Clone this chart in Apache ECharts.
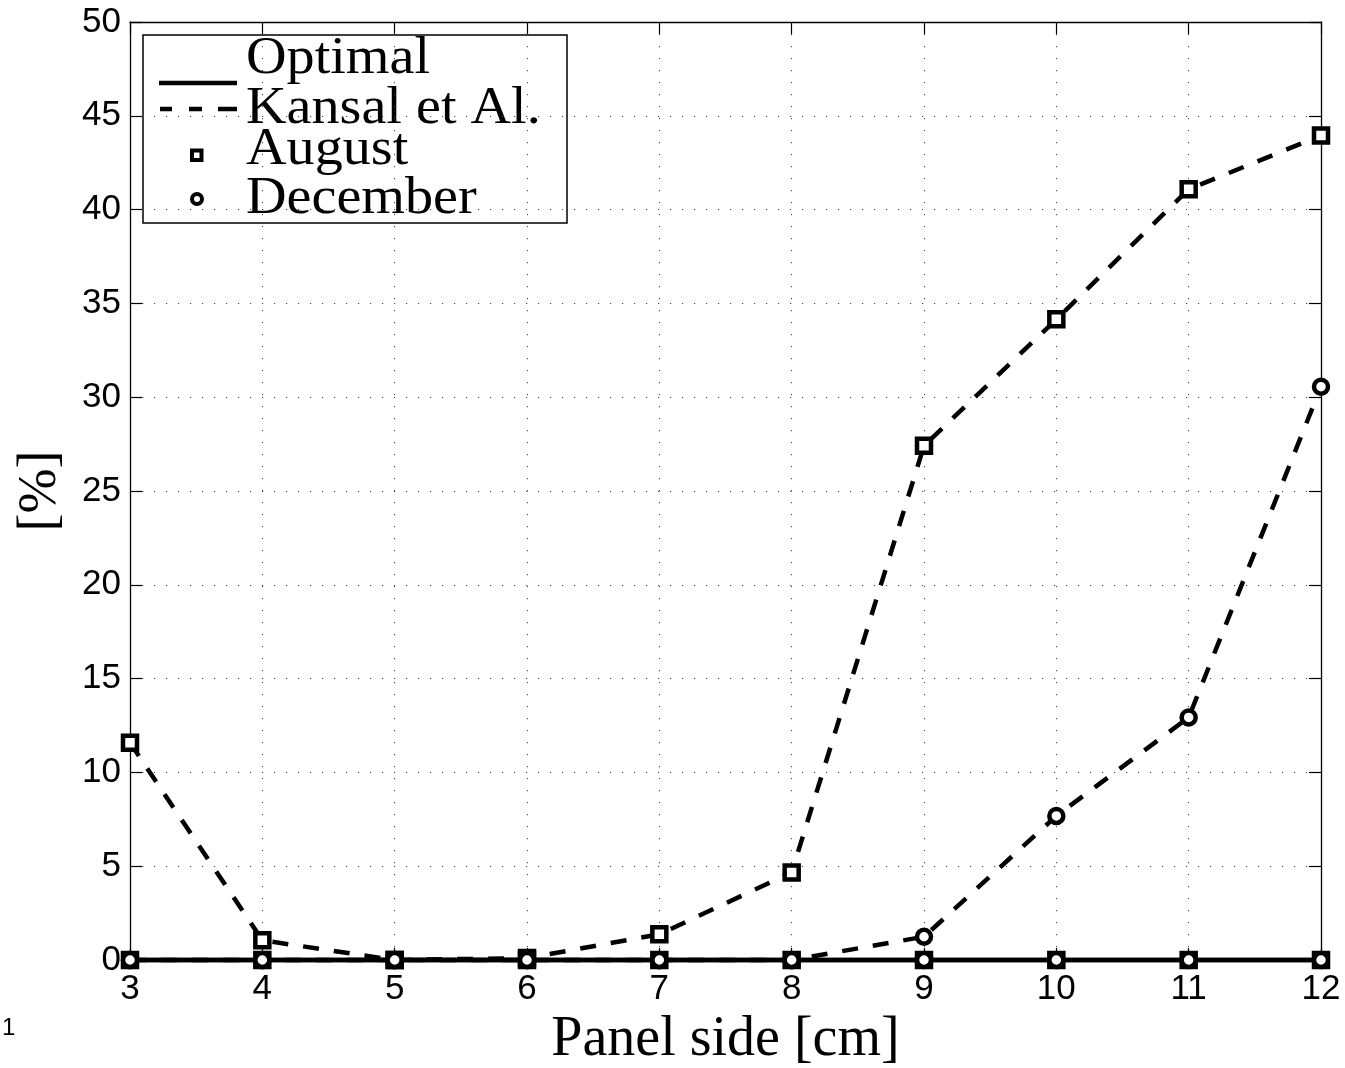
<!DOCTYPE html>
<html>
<head>
<meta charset="utf-8">
<script src="https://cdn.jsdelivr.net/npm/echarts@6/dist/echarts.min.js"></script>
<style>
  html, body { margin: 0; padding: 0; background: #fff; }
  #chart { width: 1345px; height: 1068px; }
</style>
</head>
<body>
<div id="chart"></div>
<script>
// Panel side lengths in cm
const panelSide = [3, 4, 5, 6, 7, 8, 9, 10, 11, 12];
// Loss in percent for each strategy and month
const optimalAugust = [0, 0, 0, 0, 0, 0, 0, 0, 0, 0];
const optimalDecember = [0, 0, 0, 0, 0, 0, 0, 0, 0, 0];
const kansalAugust = [11.58, 1.05, 0, 0.1, 1.37, 4.67, 27.41, 34.15, 41.08, 43.95];
const kansalDecember = [0, 0, 0, 0, 0, 0, 1.24, 7.68, 12.93, 30.56];
// Axis ticks
const xTicks = { min: 3, max: 12, interval: 1 };
const yTicks = { min: 0, max: 50, interval: 5 };

const pairs = (ys) => panelSide.map((x, i) => [x, ys[i]]);

const serif = '"Liberation Serif", "DejaVu Serif", serif';
const sans = '"Liberation Sans", Arial, sans-serif';

const squareMarker = {
  symbol: 'rect', symbolSize: 14,
  itemStyle: { color: '#fff', borderColor: '#000', borderWidth: 4.5 }
};
const circleMarker = {
  symbol: 'circle', symbolSize: 14,
  itemStyle: { color: '#fff', borderColor: '#000', borderWidth: 4.5 }
};

function lineSeries(name, ys, dashed, marker, z) {
  return Object.assign({
    name: name,
    type: 'line',
    data: pairs(ys),
    clip: false,
    z: z,
    showAllSymbol: true,
    lineStyle: { color: '#000', width: 4.5, type: dashed ? [16, 15] : 'solid', cap: 'butt' },
    emphasis: { disabled: true }
  }, marker);
}

const tickStyle = { show: true, inside: true, length: 12, lineStyle: { color: '#000', width: 1.2 } };
const axisLineStyle = { show: true, onZero: false, lineStyle: { color: '#000', width: 1.3 } };
const gridLine = { show: true, lineStyle: { color: '#444', width: 1, type: [1.2, 10.8] } };

const legendX = 143, legendY = 35;
const legendTexts = [
  { text: 'Optimal', y: 59 },
  { text: 'Kansal et Al.', y: 109 },
  { text: 'August', y: 150 },
  { text: 'December', y: 199 }
];

const option = {
  animation: false,
  backgroundColor: '#fff',
  grid: { left: 130, right: 24, top: 22, bottom: 108, containLabel: false, outerBoundsMode: 'none' },
  xAxis: [
    {
      type: 'value', position: 'bottom',
      min: xTicks.min, max: xTicks.max, interval: xTicks.interval,
      name: 'Panel side [cm]', nameLocation: 'middle', nameGap: 50,
      nameTextStyle: { fontFamily: serif, fontSize: 56, color: '#000' },
      axisLine: axisLineStyle, axisTick: tickStyle,
      axisLabel: { fontFamily: sans, fontSize: 35, color: '#000', margin: 12 },
      splitLine: gridLine
    },
    {
      type: 'value', position: 'top',
      min: xTicks.min, max: xTicks.max, interval: xTicks.interval,
      axisLine: axisLineStyle, axisTick: tickStyle,
      axisLabel: { show: false }, splitLine: { show: false }
    }
  ],
  yAxis: [
    {
      type: 'value', position: 'left',
      min: yTicks.min, max: yTicks.max, interval: yTicks.interval,
      name: '[%]', nameLocation: 'middle', nameGap: 62, nameRotate: 90,
      nameTextStyle: { fontFamily: serif, fontSize: 54, color: '#000' },
      axisLine: axisLineStyle, axisTick: tickStyle,
      axisLabel: { fontFamily: sans, fontSize: 35, color: '#000', margin: 9 },
      splitLine: gridLine
    },
    {
      type: 'value', position: 'right',
      min: yTicks.min, max: yTicks.max, interval: yTicks.interval,
      axisLine: axisLineStyle, axisTick: tickStyle,
      axisLabel: { show: false }, splitLine: { show: false }
    }
  ],
  series: [
    lineSeries('Optimal August', optimalAugust, false, squareMarker, 2),
    lineSeries('Kansal et Al. August', kansalAugust, true, squareMarker, 3),
    lineSeries('Optimal December', optimalDecember, false, circleMarker, 4),
    lineSeries('Kansal et Al. December', kansalDecember, true, circleMarker, 5)
  ],
  graphic: [
    {
      type: 'group', z: 100,
      children: [
        {
          type: 'rect', x: legendX, y: legendY,
          shape: { width: 424, height: 188 },
          style: { fill: '#fff', stroke: '#000', lineWidth: 1.5 }
        },
        { type: 'line', shape: { x1: 159, y1: 83, x2: 237, y2: 83 }, style: { stroke: '#000', lineWidth: 4.5 } },
        { type: 'line', shape: { x1: 160, y1: 109, x2: 172, y2: 109 }, style: { stroke: '#000', lineWidth: 4.5 } },
        { type: 'line', shape: { x1: 189, y1: 109, x2: 202, y2: 109 }, style: { stroke: '#000', lineWidth: 4.5 } },
        { type: 'line', shape: { x1: 218, y1: 109, x2: 237, y2: 109 }, style: { stroke: '#000', lineWidth: 4.5 } },
        { type: 'rect', shape: { x: 192, y: 150.5, width: 9.5, height: 9.5 }, style: { fill: '#fff', stroke: '#000', lineWidth: 4 } },
        { type: 'circle', shape: { cx: 197, cy: 199, r: 5 }, style: { fill: '#fff', stroke: '#000', lineWidth: 4 } }
      ].concat(legendTexts.map(t => ({
        type: 'text', x: 246, y: t.y, scaleX: 1.08,
        style: { text: t.text, fontFamily: serif, fontSize: 52, fill: '#000', verticalAlign: 'middle', align: 'left' }
      })))
    },
    {
      type: 'text', x: 2, y: 1028,
      style: { text: '1', fontFamily: sans, fontSize: 24, fill: '#000', verticalAlign: 'middle' }
    }
  ]
};

const chart = echarts.init(document.getElementById('chart'), null, { renderer: 'canvas' });
chart.setOption(option);
</script>
</body>
</html>
